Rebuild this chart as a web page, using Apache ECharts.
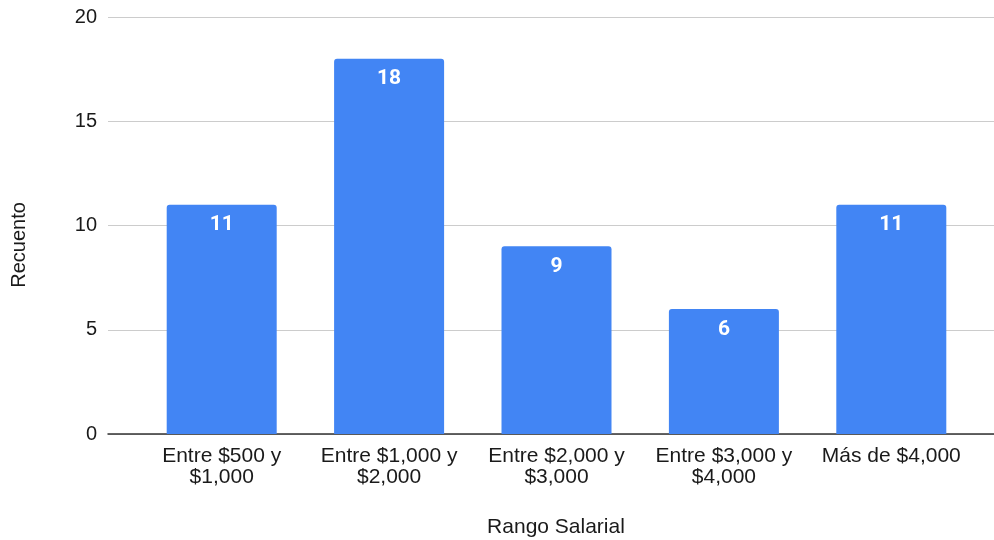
<!DOCTYPE html>
<html>
<head>
<meta charset="utf-8">
<script src="https://cdn.jsdelivr.net/npm/echarts@6/dist/echarts.min.js"></script>
<style>
html,body{margin:0;padding:0;background:#fff;}
#c{width:994px;height:540px;}
</style>
</head>
<body>
<div id="c"></div>
<script>
const categories = ["Entre $500 y\n$1,000", "Entre $1,000 y\n$2,000", "Entre $2,000 y\n$3,000", "Entre $3,000 y\n$4,000", "Más de $4,000"];
const counts = [11, 18, 9, 6, 11];
const yTicks = [0, 5, 10, 15, 20];
const xTitle = "Rango Salarial";
const yTitle = "Recuento";

const FONT = "Liberation Sans, Arial, sans-serif";
const chart = echarts.init(document.getElementById('c'), null, {renderer: 'canvas'});
chart.setOption({
  animation: false,
  backgroundColor: '#ffffff',
  grid: [
    {left: 108, right: 0, top: 17, bottom: 106},
    {left: 138, right: 19, top: 17, bottom: 106}
  ],
  xAxis: [
    {gridIndex: 0, type: 'value', min: 0, max: 1, axisLine: {show: true, onZero: false, lineStyle: {color: '#333333', width: 1.5}}, axisTick: {show: false}, axisLabel: {show: false}, splitLine: {show: false}},
    {gridIndex: 1, type: 'category', data: categories, axisLine: {show: false}, axisTick: {show: false},
     axisLabel: {interval: 0, color: '#1a1a1a', fontFamily: FONT, fontSize: 21, lineHeight: 21, margin: 12}}
  ],
  yAxis: [
    {gridIndex: 0, type: 'value', min: yTicks[0], max: yTicks[yTicks.length - 1], interval: 5,
     axisLine: {show: false}, axisTick: {show: false},
     axisLabel: {color: '#1a1a1a', fontFamily: FONT, fontSize: 20, margin: 11},
     splitLine: {lineStyle: {color: '#cccccc', width: 1}}},
    {gridIndex: 1, type: 'value', min: yTicks[0], max: yTicks[yTicks.length - 1], interval: 5, show: false, splitLine: {show: false}}
  ],
  series: [{
    type: 'bar',
    xAxisIndex: 1, yAxisIndex: 1,
    data: counts,
    barWidth: 110,
    itemStyle: {color: '#4285f4', borderRadius: [3, 3, 0, 0]},
    label: {show: true, position: 'insideTop', distance: 10, color: '#ffffff', fontFamily: 'Roboto, Liberation Sans, sans-serif', fontWeight: 'bold', fontSize: 21}
  }],
  graphic: [
    {type: 'text', x: 556, y: 527, style: {text: xTitle, fontFamily: FONT, fontSize: 21, fill: '#1a1a1a', align: 'center', verticalAlign: 'middle'}},
    {type: 'text', rotation: Math.PI / 2, x: 19.5, y: 245, style: {text: yTitle, fontFamily: FONT, fontSize: 20, fill: '#1a1a1a', align: 'center', verticalAlign: 'middle'}}
  ]
});
</script>
</body>
</html>
